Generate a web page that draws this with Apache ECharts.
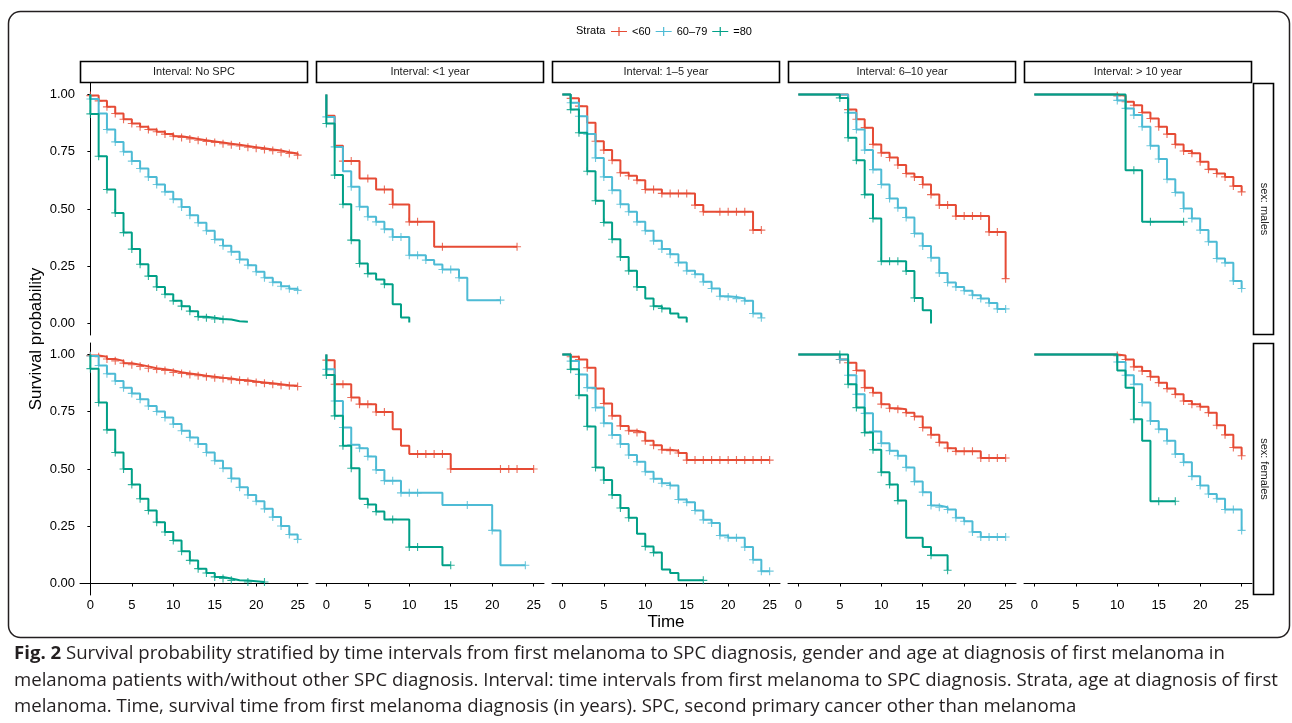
<!DOCTYPE html>
<html><head><meta charset="utf-8">
<script src="https://cdn.jsdelivr.net/npm/echarts@6/dist/echarts.min.js"></script>
<style>html,body{margin:0;padding:0;background:#fff}#c{width:1292px;height:723px}</style>
</head><body><div id="c"></div>
<script>
const intervals = ['Interval: No SPC','Interval: <1 year','Interval: 1–5 year','Interval: 6–10 year','Interval: > 10 year'];
const sexes = ['sex: males','sex: females'];
const strata = ['<60','60–79','=80'];
const strataColors = ['#E64B35','#4DBBD5','#00A087'];
const xTicks = [0,5,10,15,20,25];
const yTicks = [0,0.25,0.5,0.75,1];

// ---- males ----
const m0_a = [[0,0.995],[1,0.972],[2,0.946],[3,0.917],[4,0.892],[5,0.873],[6,0.859],[7,0.847],[8,0.837],[9,0.827],[10,0.818],[11,0.812],[12,0.806],[13,0.80],[14,0.795],[15,0.79],[16,0.785],[17,0.78],[18,0.775],[19,0.77],[20,0.765],[21,0.76],[22,0.755],[23,0.748],[24,0.742],[25,0.735]];
const m0_b = [[0,1],[0,0.98],[1,0.917],[2,0.847],[3,0.793],[4,0.75],[5,0.709],[6,0.677],[7,0.64],[8,0.607],[9,0.575],[10,0.543],[11,0.509],[12,0.473],[13,0.44],[14,0.405],[15,0.367],[16,0.34],[17,0.313],[18,0.28],[19,0.255],[20,0.226],[21,0.2],[22,0.18],[23,0.163],[24,0.152],[25,0.145]];
const m0_c = [[0,1],[0,0.915],[1,0.73],[2,0.585],[3,0.483],[4,0.397],[5,0.325],[6,0.259],[7,0.207],[8,0.16],[9,0.128],[10,0.099],[11,0.076],[12,0.054],[13,0.03],[14,0.025],[15,0.02],[16,0.018],[17,0.01],[18,0.008],[19,0.005]];
const m0c_a = [0,1,2,3,4,5,6,7,8,9,10,11,12,13,14,15,16,17,18,19,20,21,22,23,24,25];
const m0c_b = [0,1,2,3,4,5,6,7,8,9,10,11,12,13,14,15,16,17,18,19,20,21,22,23,24,25];
const m0c_c = [0,1,2,3,4,5,6,7,8,9,10,11,12,13,14,15,16];

const m1_a = [[0,1],[0,0.907],[1,0.776],[2,0.709],[4,0.633],[6,0.585],[8,0.52],[10,0.444],[13,0.335],[23,0.335]];
const m1_b = [[0,1],[0,0.902],[1,0.771],[2,0.665],[3,0.597],[4,0.51],[5,0.466],[6,0.444],[7,0.412],[8,0.378],[10,0.298],[12,0.277],[13,0.258],[14,0.236],[16,0.2],[17,0.102],[21,0.102]];
const m1_c = [[0,1],[0,0.873],[1,0.648],[2,0.521],[3,0.364],[4,0.262],[5,0.218],[6,0.192],[7,0.172],[8,0.084],[9,0.026],[10,0.005]];
const m1c_a = [2,3,5,7,8,10,11,14,23];
const m1c_b = [0,1,3,4,5,6,7,8,9,10,11,12,14,15,16,21];
const m1c_c = [0,1,2,3,4,5,7];

const m2_a = [[0,1],[1,0.983],[2,0.949],[3,0.876],[4,0.796],[5,0.757],[6,0.713],[7,0.658],[8,0.645],[9,0.626],[10,0.585],[12,0.568],[16,0.517],[17,0.488],[23,0.408],[24,0.408]];
const m2_b = [[0,1],[1,0.964],[2,0.905],[3,0.827],[4,0.723],[5,0.64],[6,0.582],[7,0.521],[8,0.488],[9,0.444],[10,0.405],[11,0.361],[12,0.325],[13,0.303],[14,0.266],[15,0.23],[16,0.215],[17,0.182],[18,0.153],[19,0.119],[20,0.116],[21,0.109],[22,0.099],[23,0.044],[24,0.025]];
const m2_c = [[0,1],[1,0.934],[2,0.833],[3,0.665],[4,0.536],[5,0.441],[6,0.368],[7,0.291],[8,0.23],[9,0.16],[10,0.109],[11,0.076],[12,0.066],[13,0.044],[14,0.026],[15,0.005]];
const m2c_a = [1,2,4,5,6,7,8,9,10,11,12,13,14,15,16,17,19,20,21,22,23,24];
const m2c_b = [1,2,3,4,5,6,7,8,9,10,11,12,13,14,15,16,17,18,19,20,21,22,23,24];
const m2c_c = [1,2,3,4,5,6,7,8,9,11,12];

const m3_a = [[0,1],[6,0.934],[7,0.892],[8,0.855],[9,0.782],[10,0.745],[11,0.725],[12,0.692],[13,0.655],[14,0.64],[15,0.607],[16,0.563],[17,0.517],[19,0.469],[23,0.40],[25,0.196]];
const m3_b = [[0,1],[6,0.92],[7,0.847],[8,0.757],[9,0.672],[10,0.607],[11,0.546],[12,0.505],[13,0.463],[14,0.393],[15,0.339],[16,0.287],[17,0.221],[18,0.179],[19,0.16],[20,0.143],[21,0.124],[22,0.109],[23,0.09],[24,0.064],[25,0.064]];
const m3_c = [[0,1],[5,0.985],[6,0.811],[7,0.713],[8,0.563],[9,0.459],[10,0.272],[13,0.229],[14,0.112],[15,0.058],[16,0.0]];
const m3c_a = [6,7,8,9,10,11,12,13,14,15,16,17,18,19,20,21,22,23,24,25];
const m3c_b = [6,7,8,9,10,11,12,13,14,15,16,17,18,19,20,21,22,23,24,25];
const m3c_c = [5,6,7,8,9,10,11,12,13,14];

const m4_a = [[0,1],[10,0.994],[11,0.968],[12,0.953],[13,0.921],[14,0.895],[15,0.859],[16,0.827],[17,0.782],[18,0.753],[19,0.743],[20,0.706],[21,0.673],[22,0.655],[23,0.64],[24,0.6],[25,0.575]];
const m4_b = [[0,1],[10,0.974],[11,0.939],[12,0.91],[13,0.859],[14,0.776],[15,0.718],[16,0.63],[17,0.572],[18,0.502],[19,0.459],[20,0.408],[21,0.357],[22,0.284],[23,0.265],[24,0.186],[25,0.153]];
const m4_c = [[0,1],[11,0.669],[13,0.444],[18,0.444]];
const m4c_a = [10,11,12,13,14,15,16,17,18,19,20,21,22,23,24,25];
const m4c_b = [10,11,12,13,14,15,16,17,18,19,20,21,22,23,24,25];
const m4c_c = [12,14,18];

// ---- females ----
const f0_a = [[0,0.995],[1,0.99],[2,0.98],[3,0.972],[4,0.962],[5,0.955],[6,0.948],[7,0.94],[8,0.935],[9,0.93],[10,0.922],[11,0.917],[12,0.912],[13,0.907],[14,0.903],[15,0.898],[16,0.895],[17,0.89],[18,0.887],[19,0.882],[20,0.878],[21,0.874],[22,0.87],[23,0.866],[24,0.863],[25,0.86]];
const f0_b = [[0,0.993],[1,0.952],[2,0.916],[3,0.884],[4,0.855],[5,0.83],[6,0.804],[7,0.775],[8,0.751],[9,0.725],[10,0.696],[11,0.667],[12,0.638],[13,0.609],[14,0.572],[15,0.536],[16,0.503],[17,0.459],[18,0.42],[19,0.387],[20,0.359],[21,0.326],[22,0.29],[23,0.251],[24,0.214],[25,0.193]];
const f0_c = [[0,1],[0,0.938],[1,0.79],[2,0.671],[3,0.572],[4,0.5],[5,0.432],[6,0.37],[7,0.319],[8,0.268],[9,0.225],[10,0.188],[11,0.141],[12,0.101],[13,0.065],[14,0.046],[15,0.029],[16,0.022],[17,0.014],[18,0.013],[19,0.007],[21,0.007]];
const f0c_a = [0,1,2,3,4,5,6,7,8,9,10,11,12,13,14,15,16,17,18,19,20,21,22,23,24,25];
const f0c_b = [0,1,2,3,4,5,6,7,8,9,10,11,12,13,14,15,16,17,18,19,20,21,22,23,24,25];
const f0c_c = [0,1,2,3,4,5,6,7,8,9,10,11,12,13,14,15,16,17,19,21];

const f1_a = [[0,1],[0,0.975],[1,0.87],[3,0.812],[4,0.783],[6,0.749],[8,0.674],[9,0.601],[10,0.565],[15,0.5],[25,0.5]];
const f1_b = [[0,1],[0,0.935],[1,0.797],[2,0.681],[3,0.606],[4,0.591],[5,0.555],[6,0.496],[7,0.449],[9,0.396],[14,0.343],[20,0.232],[21,0.08],[24,0.08]];
const f1_c = [[0,1],[0,0.91],[1,0.732],[2,0.601],[3,0.503],[4,0.37],[5,0.345],[6,0.314],[7,0.28],[10,0.159],[14,0.08],[15,0.08]];
const f1c_a = [0,1,2,3,4,5,6,7,11,12,13,14,15,21,22,23,25];
const f1c_b = [0,1,2,3,4,5,6,7,8,9,10,11,17,20,24];
const f1c_c = [0,1,2,3,5,6,8,10,11,15];

const f2_a = [[0,1],[1,0.99],[2,0.978],[3,0.942],[4,0.851],[5,0.786],[6,0.732],[7,0.688],[8,0.667],[9,0.659],[10,0.623],[11,0.604],[12,0.584],[13,0.58],[14,0.57],[15,0.539],[25,0.539]];
const f2_b = [[0,1],[1,0.971],[2,0.913],[3,0.855],[4,0.768],[5,0.7],[6,0.648],[7,0.609],[8,0.561],[9,0.532],[10,0.488],[11,0.457],[12,0.438],[13,0.428],[14,0.367],[15,0.355],[16,0.319],[17,0.278],[18,0.264],[19,0.21],[20,0.2],[22,0.159],[23,0.104],[24,0.054],[25,0.054]];
const f2_c = [[0,1],[1,0.935],[2,0.822],[3,0.686],[4,0.507],[5,0.452],[6,0.387],[7,0.33],[8,0.287],[9,0.217],[10,0.162],[11,0.135],[12,0.061],[13,0.046],[14,0.014],[17,0.014]];
const f2c_a = [1,2,3,4,5,6,7,8,9,10,11,12,13,14,15,16,17,18,19,20,21,22,23,24,25];
const f2c_b = [1,2,3,4,5,6,7,8,9,10,11,12,13,14,15,16,17,18,19,20,21,22,23,24,25];
const f2c_c = [1,2,3,4,5,6,7,8,10,11,17];

const f3_a = [[0,1],[5,0.978],[6,0.964],[7,0.93],[8,0.855],[9,0.833],[10,0.783],[11,0.765],[12,0.761],[13,0.746],[14,0.729],[15,0.681],[16,0.649],[17,0.616],[18,0.591],[19,0.577],[22,0.548],[25,0.548]];
const f3_b = [[0,1],[5,0.978],[6,0.909],[7,0.826],[8,0.743],[9,0.664],[10,0.612],[11,0.58],[12,0.558],[13,0.507],[14,0.445],[15,0.399],[16,0.341],[17,0.333],[18,0.323],[19,0.287],[20,0.272],[21,0.225],[22,0.203],[25,0.203]];
const f3_c = [[0,1],[6,0.87],[7,0.768],[8,0.659],[9,0.584],[10,0.486],[11,0.432],[12,0.362],[13,0.2],[15,0.159],[16,0.123],[18,0.058]];
const f3c_a = [5,6,7,8,9,10,11,12,13,14,15,16,17,18,19,20,21,22,23,24,25];
const f3c_b = [5,6,7,8,9,10,11,12,13,14,15,16,17,18,19,20,21,22,23,24,25];
const f3c_c = [5,6,7,8,9,10,11,12,16,18];

const f4_a = [[0,1],[10,0.995],[11,0.978],[12,0.946],[13,0.928],[14,0.903],[15,0.877],[16,0.851],[17,0.826],[18,0.797],[19,0.783],[20,0.772],[21,0.746],[22,0.691],[23,0.649],[24,0.594],[25,0.558]];
const f4_b = [[0,1],[10,0.967],[11,0.909],[12,0.87],[13,0.79],[14,0.71],[15,0.674],[16,0.623],[17,0.565],[18,0.529],[19,0.468],[20,0.428],[21,0.391],[22,0.37],[23,0.323],[25,0.232]];
const f4_c = [[0,1],[10,0.93],[11,0.855],[12,0.717],[13,0.623],[14,0.359],[17,0.359]];
const f4c_a = [10,11,12,13,14,15,16,17,18,19,20,21,22,23,24,25];
const f4c_b = [10,11,12,13,14,15,16,17,18,19,20,21,22,23,24,25];
const f4c_c = [12,15,17];

const survData = [
  [[m0_a,m0_b,m0_c],[m1_a,m1_b,m1_c],[m2_a,m2_b,m2_c],[m3_a,m3_b,m3_c],[m4_a,m4_b,m4_c]],
  [[f0_a,f0_b,f0_c],[f1_a,f1_b,f1_c],[f2_a,f2_b,f2_c],[f3_a,f3_b,f3_c],[f4_a,f4_b,f4_c]]
];
const censorData = [
  [[m0c_a,m0c_b,m0c_c],[m1c_a,m1c_b,m1c_c],[m2c_a,m2c_b,m2c_c],[m3c_a,m3c_b,m3c_c],[m4c_a,m4c_b,m4c_c]],
  [[f0c_a,f0c_b,f0c_c],[f1c_a,f1c_b,f1c_c],[f2c_a,f2c_b,f2c_c],[f3c_a,f3c_b,f3c_c],[f4c_a,f4c_b,f4c_c]]
];

const captionLines = [
  '{b|Fig. 2} Survival probability stratified by time intervals from first melanoma to SPC diagnosis, gender and age at diagnosis of first melanoma in',
  'melanoma patients with/without other SPC diagnosis. Interval: time intervals from first melanoma to SPC diagnosis. Strata, age at diagnosis of first',
  'melanoma. Time, survival time from first melanoma diagnosis (in years). SPC, second primary cancer other than melanoma'
];

// ---- layout ----
const FONT = '"Liberation Sans", Arial, sans-serif';
const CAP_FONT = '"Open Sans", sans-serif';
const colLeft = [80, 316, 552, 788, 1024];
const panelW = 228;
const rowTop = [83, 343];
const panelH = 252;
const plusPath = 'path://M-0.14,-1L0.14,-1L0.14,-0.14L1,-0.14L1,0.14L0.14,0.14L0.14,1L-0.14,1L-0.14,0.14L-1,0.14L-1,-0.14L-0.14,-0.14Z';
const legendIcon = 'path://M0,4.4L16,4.4L16,5.6L0,5.6Z M7.4,0.5L8.6,0.5L8.6,9.5L7.4,9.5Z';

function survAt(curve, t) {
  let s = curve[0][1];
  for (const p of curve) if (p[0] <= t) s = p[1];
  return s;
}

const grids = [], xAxes = [], yAxes = [], series = [], graphics = [];
for (let r = 0; r < 2; r++) {
  for (let c = 0; c < 5; c++) {
    const idx = r * 5 + c;
    grids.push({ left: colLeft[c], top: rowTop[r], width: panelW, height: panelH });
    xAxes.push({
      type: 'value', gridIndex: idx, min: -1.25, max: 26.25, show: r === 1,
      axisLine: { show: true, lineStyle: { color: '#000', width: 1 } },
      axisTick: { show: true, customValues: xTicks, length: 3, lineStyle: { color: '#000' } },
      axisLabel: { customValues: xTicks, fontSize: 13, color: '#000', margin: 4, fontFamily: FONT },
      splitLine: { show: false }
    });
    yAxes.push({
      type: 'value', gridIndex: idx, min: -0.05, max: 1.05, show: c === 0,
      axisLine: { show: true, lineStyle: { color: '#000', width: 1 } },
      axisTick: { show: true, customValues: yTicks, length: 3, lineStyle: { color: '#000' } },
      axisLabel: { customValues: yTicks, fontSize: 13, color: '#000', margin: 5, fontFamily: FONT,
                   formatter: v => v.toFixed(2) },
      splitLine: { show: false }
    });
    for (let k = 0; k < 3; k++) {
      const curve = survData[r][c][k];
      series.push({
        type: 'line', name: strata[k], xAxisIndex: idx, yAxisIndex: idx,
        data: curve, step: 'end', showSymbol: false, silent: true,
        lineStyle: { color: strataColors[k], width: 2 }, itemStyle: { color: strataColors[k] },
        z: 2 + k
      });
      series.push({
        type: 'scatter', name: strata[k], xAxisIndex: idx, yAxisIndex: idx,
        data: censorData[r][c][k].map(t => [t, survAt(curve, t)]),
        symbol: plusPath, symbolSize: 8, silent: true,
        itemStyle: { color: strataColors[k] }, z: 2 + k
      });
    }
  }
}

// strips (top)
for (let c = 0; c < 5; c++) {
  graphics.push({ type: 'rect', shape: { x: colLeft[c] + 0.5, y: 61.5, width: panelW - 1, height: 21 },
    style: { fill: '#fff', stroke: '#000', lineWidth: 1.6 }, z: 10 });
  graphics.push({ type: 'text', x: colLeft[c] + panelW / 2, y: 72, z: 11,
    style: { text: intervals[c], font: '11px ' + FONT, fill: '#1a1a1a', align: 'center', verticalAlign: 'middle' } });
}
// strips (right)
for (let r = 0; r < 2; r++) {
  graphics.push({ type: 'rect', shape: { x: 1253.5, y: rowTop[r] + 0.5, width: 20, height: panelH - 1 },
    style: { fill: '#fff', stroke: '#000', lineWidth: 1.6 }, z: 10 });
  graphics.push({ type: 'text', x: 1264, y: rowTop[r] + panelH / 2, rotation: -Math.PI / 2, z: 11,
    style: { text: sexes[r], font: '11px ' + FONT, fill: '#1a1a1a', align: 'center', verticalAlign: 'middle' } });
}
// axis titles
graphics.push({ type: 'text', x: 36, y: 339, rotation: Math.PI / 2,
  style: { text: 'Survival probability', font: '17px ' + FONT, fill: '#000', align: 'center', verticalAlign: 'middle' } });
graphics.push({ type: 'text', x: 666, y: 622,
  style: { text: 'Time', font: '17px ' + FONT, fill: '#000', align: 'center', verticalAlign: 'middle' } });
// legend title
graphics.push({ type: 'text', x: 576, y: 31,
  style: { text: 'Strata', font: '11px ' + FONT, fill: '#000', align: 'left', verticalAlign: 'middle' } });
// outer frame
graphics.push({ type: 'rect', shape: { x: 8.5, y: 11.5, width: 1281, height: 626, r: 12 },
  style: { fill: 'none', stroke: '#231f20', lineWidth: 1.5 }, z: 0 });
// caption
captionLines.forEach((line, i) => {
  graphics.push({ type: 'text', x: 14, y: 654 + i * 26.5,
    style: { text: line, font: '18.6px ' + CAP_FONT, fill: '#231f20', align: 'left', verticalAlign: 'middle',
      rich: { b: { fontWeight: 'bold', fontSize: 18.6, fontFamily: CAP_FONT, fill: '#231f20' } } } });
});

const chart = echarts.init(document.getElementById('c'), null, { renderer: 'canvas' });
chart.setOption({
  animation: false,
  backgroundColor: '#fff',
  grid: grids, xAxis: xAxes, yAxis: yAxes, series: series,
  legend: {
    left: 606, top: 21, itemWidth: 16, itemHeight: 10, itemGap: 5,
    textStyle: { fontSize: 11, color: '#000', fontFamily: FONT },
    data: strata.map((s, k) => ({ name: s, icon: legendIcon, itemStyle: { color: strataColors[k] } })),
    selectedMode: false
  },
  graphic: graphics
});
</script></body></html>
